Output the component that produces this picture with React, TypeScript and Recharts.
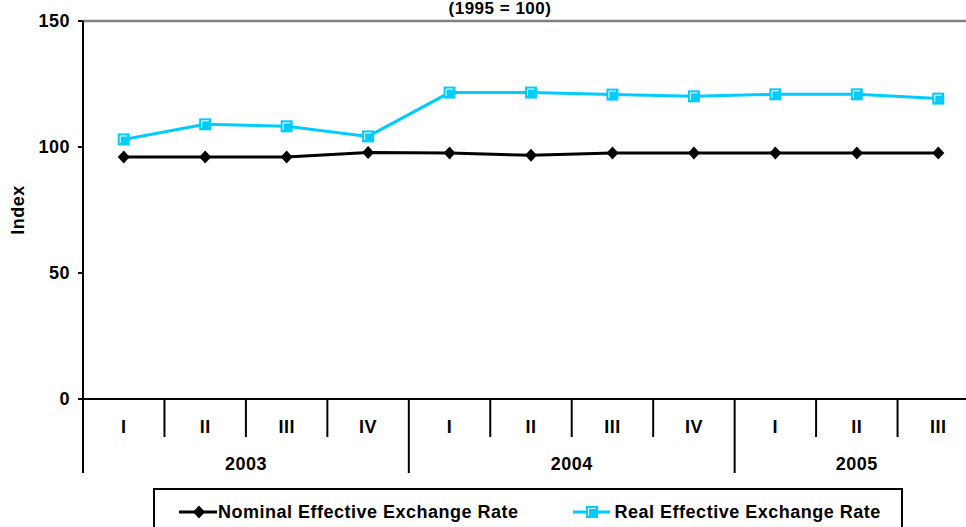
import React from 'react';
import { LineChart, Line, XAxis, YAxis, Legend, ReferenceLine, Label } from 'recharts';

const quarters = ['I', 'II', 'III', 'IV', 'I', 'II', 'III', 'IV', 'I', 'II', 'III'];
const years = ['2003', '2004', '2005'];
const quartersPerYear = [4, 4, 3];
const nominal = [96.0, 96.0, 96.0, 97.8, 97.6, 96.7, 97.6, 97.6, 97.6, 97.6, 97.6];
const real = [103.0, 109.0, 108.2, 104.2, 121.6, 121.6, 120.8, 120.1, 120.9, 120.9, 119.2];
const yTicks = [0, 50, 100, 150];

const FONT = '"Liberation Sans", Arial, Helvetica, sans-serif';
const CYAN = '#00CCFF';

// each quarter sits in the middle of its band on a numeric x scale
const data = quarters.map((q, i) => ({ x: i + 0.5, q, nominal: nominal[i], real: real[i] }));

const quarterTicks: number[] = [];
for (let i = 0; i <= quarters.length; i++) {
  quarterTicks.push(i);
  if (i < quarters.length) quarterTicks.push(i + 0.5);
}

const yearBounds: number[] = [0];
const yearCentres: number[] = [];
quartersPerYear.forEach((n) => {
  const start = yearBounds[yearBounds.length - 1];
  yearCentres.push(start + n / 2);
  yearBounds.push(start + n);
});
const yearTicks = [...yearBounds, ...yearCentres].sort((a, b) => a - b);

const textStyle = { fontFamily: FONT, fontWeight: 'bold' as const, fontSize: 18, letterSpacing: 0.5, fill: '#000' };

// integer ticks draw the separators, half ticks the quarter names
const QuarterTick = (props: any) => {
  const { x, y, payload } = props;
  const v = payload.value;
  if (Number.isInteger(v)) {
    return <line x1={x} x2={x} y1={y} y2={y + 38} stroke="#000" strokeWidth={2} />;
  }
  return (
    <text x={x} y={y + 34} textAnchor="middle" style={textStyle}>
      {quarters[Math.floor(v)]}
    </text>
  );
};

const YearTick = (props: any) => {
  const { x, y, payload } = props;
  const v = payload.value;
  const b = yearBounds.indexOf(v);
  if (b >= 0) {
    return <line x1={x} x2={x} y1={y} y2={y + 36} stroke="#000" strokeWidth={2} />;
  }
  return (
    <text x={x} y={y + 33} textAnchor="middle" style={textStyle}>
      {years[yearCentres.indexOf(v)]}
    </text>
  );
};

const DiamondDot = (props: any) => {
  const { cx, cy } = props;
  if (cx == null || cy == null) return <g />;
  return <path d={`M${cx},${cy - 6.5}L${cx + 6},${cy}L${cx},${cy + 6.5}L${cx - 6},${cy}Z`} fill="#000" />;
};

const SquareDot = (props: any) => {
  const { cx, cy } = props;
  if (cx == null || cy == null) return <g />;
  return (
    <g>
      <rect x={cx - 6} y={cy - 6} width={12} height={12} fill={CYAN} />
      <path d={`M${cx - 3.5},${cy + 3.5}V${cy - 3.5}H${cx + 3.5}`} stroke="#fff" strokeWidth={1} fill="none" />
    </g>
  );
};

const LegendBox = () => (
  <div
    style={{
      boxSizing: 'border-box',
      width: 750,
      height: 50,
      border: '2px solid #000',
      borderBottom: 'none',
      display: 'flex',
      alignItems: 'center',
      paddingLeft: 23,
      paddingBottom: 4,
      fontFamily: FONT,
      fontWeight: 'bold',
      fontSize: 18,
      letterSpacing: 0.5,
      color: '#000',
    }}
  >
    <svg width={40} height={14} style={{ display: 'block' }}>
      <line x1={1} x2={39} y1={7} y2={7} stroke="#000" strokeWidth={3} />
      <path d="M21,0.5L27,7L21,13.5L15,7Z" fill="#000" />
    </svg>
    <span>Nominal Effective Exchange Rate</span>
    <svg width={38} height={14} style={{ display: 'block', marginLeft: 54, marginRight: 4 }}>
      <line x1={0} x2={37} y1={7} y2={7} stroke={CYAN} strokeWidth={3} />
      <rect x={13} y={1} width={12} height={12} fill={CYAN} />
      <path d="M15.5,10.5V3.5H22.5" stroke="#fff" strokeWidth={1} fill="none" />
    </svg>
    <span>Real Effective Exchange Rate</span>
  </div>
);

const App: React.FC = () => {
  return (
    <div
      style={{
        position: 'absolute',
        left: 0,
        top: 0,
        width: 966,
        height: 527,
        overflow: 'hidden',
        background: '#fff',
      }}
    >
      <div
        style={{
          position: 'absolute',
          left: 0,
          top: 0,
          width: 1000,
          height: 18,
          lineHeight: '18px',
          textAlign: 'center',
          fontFamily: FONT,
          fontWeight: 'bold',
          fontSize: 17,
          letterSpacing: 0.5,
          zIndex: 1,
        }}
      >
        (1995 = 100)
      </div>
      <LineChart width={990} height={527} data={data} margin={{ top: 21, right: 11, left: 0, bottom: 54 }}>
        <XAxis
          xAxisId="q"
          type="number"
          dataKey="x"
          domain={[0, quarters.length]}
          ticks={quarterTicks}
          interval={0}
          tick={<QuarterTick />}
          tickLine={false}
          tickSize={0}
          tickMargin={0}
          height={38}
          axisLine={{ stroke: '#000', strokeWidth: 2 }}
        />
        <XAxis
          xAxisId="yr"
          type="number"
          dataKey="x"
          domain={[0, quarters.length]}
          ticks={yearTicks}
          interval={0}
          tick={<YearTick />}
          tickLine={false}
          tickSize={0}
          tickMargin={0}
          height={36}
          axisLine={false}
        />
        <YAxis
          domain={[0, 150]}
          ticks={yTicks}
          interval={0}
          width={83}
          tickSize={5}
          tickMargin={8}
          tickLine={{ stroke: '#000', strokeWidth: 2 }}
          axisLine={{ stroke: '#000', strokeWidth: 2 }}
          tick={{ ...textStyle }}
        >
          <Label
            content={(p: any) => {
              const vb = p.viewBox || { x: 0, y: 21, width: 83, height: 378 };
              const cx = vb.x + 18;
              const cy = vb.y + vb.height / 2;
              return (
                <text
                  x={cx}
                  y={cy}
                  transform={`rotate(-90 ${cx} ${cy})`}
                  textAnchor="middle"
                  dominantBaseline="central"
                  style={textStyle}
                >
                  Index
                </text>
              );
            }}
          />
        </YAxis>
        <ReferenceLine xAxisId="q" y={150} stroke="#808080" strokeWidth={2.5} />
        <Line
          xAxisId="q"
          type="linear"
          dataKey="nominal"
          name="Nominal Effective Exchange Rate"
          stroke="#000"
          strokeWidth={3}
          dot={<DiamondDot />}
          isAnimationActive={false}
        />
        <Line
          xAxisId="q"
          type="linear"
          dataKey="real"
          name="Real Effective Exchange Rate"
          stroke={CYAN}
          strokeWidth={3}
          dot={<SquareDot />}
          isAnimationActive={false}
        />
        <Legend
          layout="horizontal"
          verticalAlign="middle"
          align="center"
          wrapperStyle={{ left: 153, top: 488, width: 750, height: 50 }}
          content={() => <LegendBox />}
        />
      </LineChart>
    </div>
  );
};

export default App;
